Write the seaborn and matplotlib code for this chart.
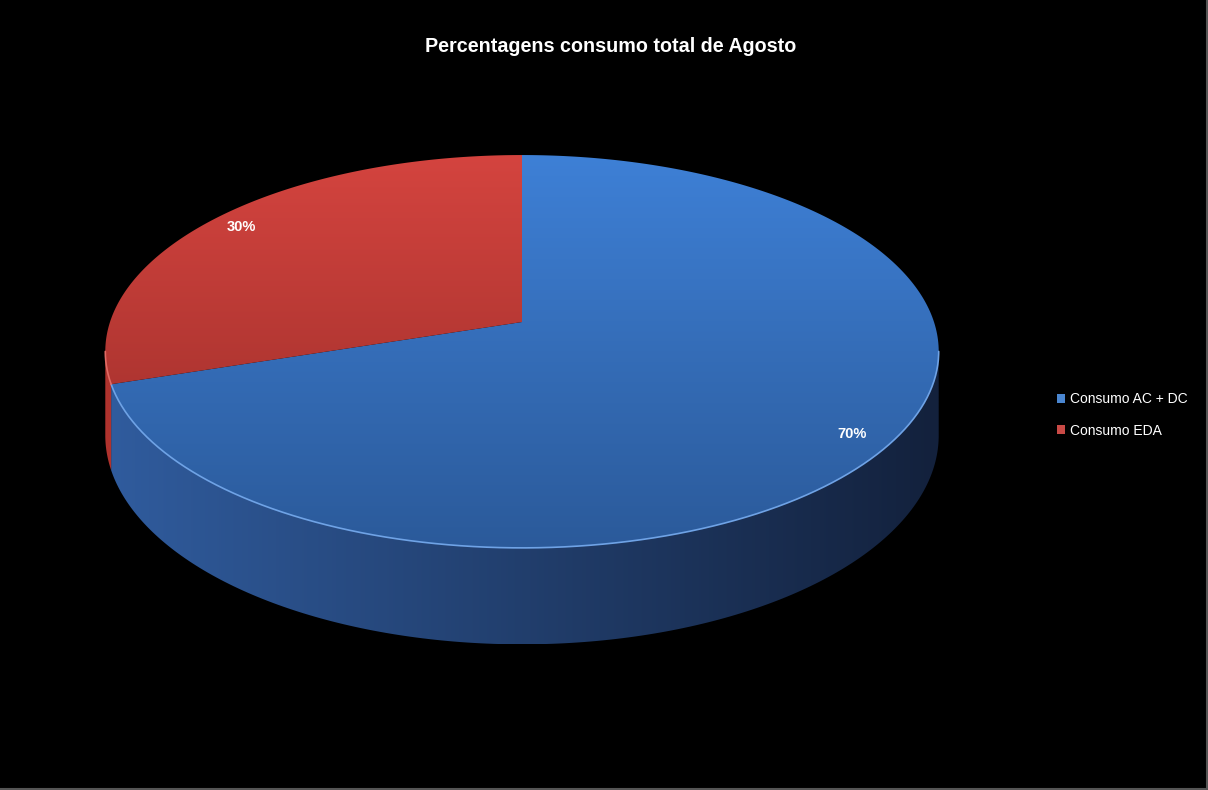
import numpy as np
import matplotlib.pyplot as plt
from matplotlib.patches import Polygon, Rectangle
import seaborn as sns

# data
labels = ["Consumo AC + DC", "Consumo EDA"]
values = [70, 30]
title = "Percentagens consumo total de Agosto"

# colours (light -> dark) for the top face and the side wall of each slice
top_colors = [("#3e80d6", "#2b5a9a"), ("#d4443f", "#952b27")]
side_colors = [("#305c9e", "#13213c"), ("#b0332e", "#7a221f")]
rim_colors = ["#6fa3e6", "#e06a64"]
legend_colors = ["#4a86d0", "#c94a46"]

sns.set_theme(style="dark", rc={"figure.facecolor": "black", "axes.facecolor": "black"})
plt.rcParams["font.family"] = ["Liberation Sans", "DejaVu Sans"]

W, H = 1208, 790
fig = plt.figure(figsize=(W / 100, H / 100), dpi=100, facecolor="black")
ax = fig.add_axes([0, 0, 1, 1])
ax.set_xlim(0, W)
ax.set_ylim(H, 0)
ax.axis("off")

# simple perspective projection of a horizontal disc
cx, cy = 522, 322
a, b, k, depth = 412, 192, 0.15, 82
edge = np.degrees(np.arcsin(k))  # where the outline is widest


def proj(t, r=1.0, drop=0.0):
    u, v = r * np.cos(t), r * np.sin(t)
    w = 1 + k * v
    return cx + a * u / w, cy - b * v / w + drop / w


def grad_fill(poly, c1, c2, horizontal=False):
    xs, ys = poly.get_xy()[:, 0], poly.get_xy()[:, 1]
    if horizontal:
        cols = np.array(sns.blend_palette([c1, c2], 256))[None, :, :]
        ext = (105, 940, ys.max(), ys.min())
    else:
        cols = np.array(sns.blend_palette([c1, c2], 256))[:, None, :]
        ext = (xs.min(), xs.max(), 548, 155)
    ax.add_patch(poly)
    im = ax.imshow(cols, extent=ext, origin="upper", aspect="auto",
                   interpolation="bilinear", zorder=poly.get_zorder())
    im.set_clip_path(poly)


total = sum(values)
angles = []
start = 90.0
for v in values:
    end = start - 360.0 * v / total
    angles.append((start, end))
    start = end

# side walls (front half only)
for i, (t0, t1) in enumerate(angles):
    for shift in (0, -360):
        lo, hi = max(t1, -180 + edge + shift), min(t0, -edge + shift)
        if hi <= lo:
            continue
        tt = np.radians(np.linspace(lo, hi, 200))
        xt, yt = proj(tt)
        xb, yb = proj(tt[::-1], drop=depth)
        pts = np.column_stack([np.r_[xt, xb], np.r_[yt, yb]])
        poly = Polygon(pts, closed=True, facecolor="none", edgecolor="none", zorder=1)
        grad_fill(poly, *side_colors[i], horizontal=True)
        ax.plot(xt, yt, color=rim_colors[i], lw=1.2, zorder=3)

# top faces
for i, (t0, t1) in enumerate(angles):
    tt = np.radians(np.linspace(t0, t1, 300))
    xa, ya = proj(tt)
    pts = np.column_stack([np.r_[cx, xa], np.r_[cy, ya]])
    poly = Polygon(pts, closed=True, facecolor="none", edgecolor="none", zorder=2)
    grad_fill(poly, *top_colors[i])

# percentage labels
for i, (t0, t1) in enumerate(angles):
    mid = np.radians((t0 + t1) / 2)
    x, y = proj(mid, r=0.91)
    ax.text(x, y, f"{values[i] / total:.0%}", color="white", fontsize=10.5,
            fontweight="bold", ha="center", va="center", zorder=5)

ax.text(611, 46, title, color="white", fontsize=14.2, fontweight="bold",
        ha="center", va="center", zorder=5)

# legend
handles = [Rectangle((0, 0), 1, 1, facecolor=c, edgecolor="none") for c in legend_colors]
fig.legend(handles, labels, loc="center left", bbox_to_anchor=(1044 / W, 1 - 415 / H),
           frameon=False, fontsize=10, labelcolor="white", handlelength=0.6,
           handleheight=0.6, handletextpad=0.4, labelspacing=1.25)

# faint frame on the right and bottom edges
ax.plot([W - 1.5, W - 1.5], [0, H - 1.5], color="#555555", lw=1.5, zorder=6)
ax.plot([0, W - 1.5], [H - 1.5, H - 1.5], color="#555555", lw=1.5, zorder=6)

fig.savefig("out.png", dpi=100, facecolor="black")
